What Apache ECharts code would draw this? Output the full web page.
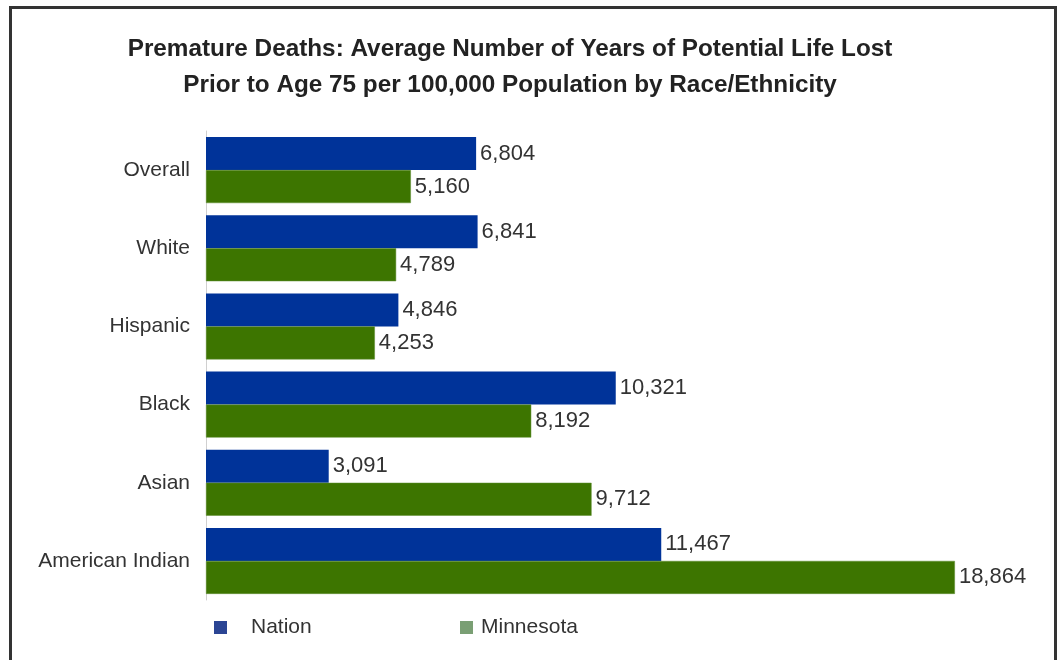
<!DOCTYPE html>
<html>
<head>
<meta charset="utf-8">
<script src="https://cdn.jsdelivr.net/npm/echarts@6/dist/echarts.min.js"></script>
<style>
  html, body { margin: 0; padding: 0; background: #fff; }
  #chart { width: 1062px; height: 660px; }
</style>
</head>
<body>
<div id="chart"></div>
<script>
// categories, top to bottom
const categories = ['Overall', 'White', 'Hispanic', 'Black', 'Asian', 'American Indian'];
const nation = [6804, 6841, 4846, 10321, 3091, 11467];
const minnesota = [5160, 4789, 4253, 8192, 9712, 18864];

const chart = echarts.init(document.getElementById('chart'));

const labelStyle = {
  show: true,
  position: 'right',
  distance: 4,
  color: '#333',
  fontFamily: 'Liberation Sans',
  fontSize: 22,
  formatter: p => p.value.toLocaleString('en-US')
};

chart.setOption({
  animation: false,
  title: {
    text: 'Premature Deaths: Average Number of Years of Potential Life Lost\nPrior to Age 75 per 100,000 Population by Race/Ethnicity',
    left: 505,
    textAlign: 'center',
    top: 26,
    textStyle: {
      fontFamily: 'Liberation Sans',
      fontWeight: 'bold',
      fontSize: 24.3,
      lineHeight: 36,
      color: '#222'
    }
  },
  graphic: [{
    type: 'rect',
    shape: { x: 10.5, y: 7.5, width: 1045, height: 700 },
    style: { fill: 'none', stroke: '#333', lineWidth: 3 }
  }],
  grid: { left: 206, top: 131, width: 794, height: 469 },
  xAxis: {
    type: 'value',
    min: 0,
    max: 20000,
    show: false
  },
  yAxis: {
    type: 'category',
    data: categories,
    inverse: true,
    axisLine: { show: true, lineStyle: { color: '#d0d0d0', width: 1 } },
    axisTick: { show: false },
    axisLabel: {
      color: '#333',
      fontFamily: 'Liberation Sans',
      fontSize: 21,
      margin: 16
    }
  },
  legend: [{
    left: 209,
    top: 612,
    itemWidth: 13,
    itemHeight: 13,
    itemGap: 0,
    icon: 'rect',
    data: [{ name: 'Nation', itemStyle: { color: '#2B4594', borderWidth: 0 } }],
    textStyle: { color: '#333', fontFamily: 'Liberation Sans', fontSize: 21, padding: [0, 0, 0, 19] }
  }, {
    left: 455,
    top: 612,
    itemWidth: 13,
    itemHeight: 13,
    icon: 'rect',
    data: [{ name: 'Minnesota', itemStyle: { color: '#7A9F74', borderWidth: 0 } }],
    textStyle: { color: '#333', fontFamily: 'Liberation Sans', fontSize: 21, padding: [0, 0, 0, 3] }
  }],
  series: [{
    name: 'Nation',
    type: 'bar',
    data: nation,
    barWidth: 33,
    barGap: '0%',
    itemStyle: { color: '#003399' },
    label: labelStyle
  }, {
    name: 'Minnesota',
    type: 'bar',
    data: minnesota,
    barWidth: 33,
    itemStyle: { color: '#3D7500', borderColor: '#5E8C30', borderWidth: 0.5 },
    label: labelStyle
  }]
});
</script>
</body>
</html>
